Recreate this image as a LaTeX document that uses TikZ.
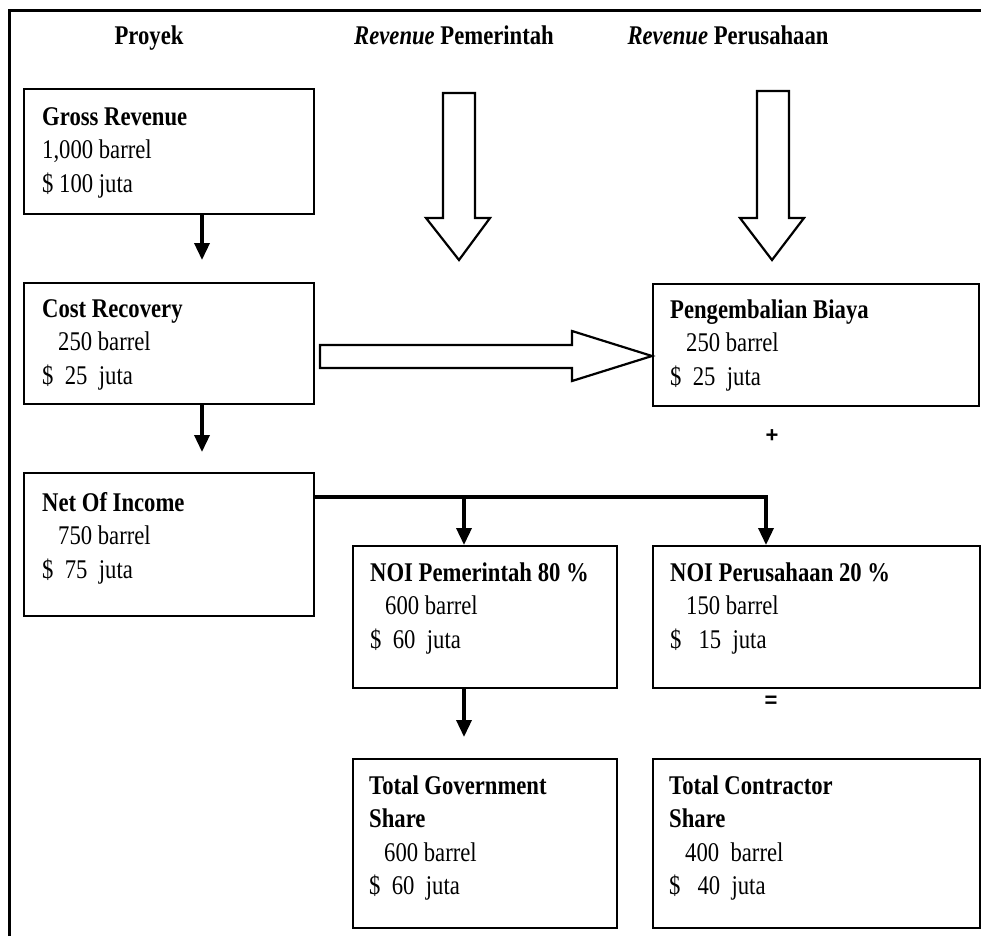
\documentclass[tikz,border=0pt]{standalone}
\usepackage{fontspec}
\setmainfont[FakeStretch=0.84]{Liberation Serif}
\newfontfamily\signfont{Liberation Sans}
\usetikzlibrary{arrows.meta}
\newcommand\lnstrut{\rule{0pt}{22pt}}
\begin{document}
\begin{tikzpicture}[x=1pt,y=-1pt,
  box/.style={draw, line width=2.4pt, inner sep=0pt, anchor=north west},
  txt/.style={anchor=north west, inner sep=0pt, align=left, font=\fontsize{27}{33.5}\selectfont},
  head/.style={anchor=base, inner sep=0pt, font=\fontsize{27}{33.5}\selectfont\bfseries},
  conn/.style={line width=3.5pt, -{Triangle[length=17pt,width=15pt]}},
  blockarrow/.style={draw, fill=white, line width=2.2pt, line join=miter},
  sign/.style={inner sep=0pt, font=\signfont\fontsize{22}{22}\selectfont\bfseries}]
\useasboundingbox (0,0) rectangle (981,936);
\fill[white] (0,0) rectangle (981,936);
% frame
\draw[line width=3pt] (9,936) -- (9,11) -- (981,11);
% headers
\node[head] (h1) at (149,45) {Proyek};
\node[head] (h2) at (454,45) {\textit{Revenue} Pemerintah};
\node[head] (h3) at (728,45) {\textit{Revenue} Perusahaan};
% boxes
\node[box, minimum width=290pt, minimum height=125pt] (gross) at (23,88) {};
\node[box, minimum width=290pt, minimum height=121pt] (cost) at (23,282) {};
\node[box, minimum width=290pt, minimum height=143pt] (net) at (23,472) {};
\node[box, minimum width=326pt, minimum height=122pt] (peng) at (652,283) {};
\node[box, minimum width=264pt, minimum height=142pt] (noip) at (352,545) {};
\node[box, minimum width=327pt, minimum height=142pt] (noic) at (652,545) {};
\node[box, minimum width=264pt, minimum height=169pt] (totg) at (352,758) {};
\node[box, minimum width=327pt, minimum height=169pt] (totc) at (652,758) {};
% texts
\node[txt] (grosst) at (42,103) {\lnstrut\textbf{Gross Revenue}\\1,000 barrel\\\$ 100 juta};
\node[txt] (costt) at (42,295) {\lnstrut\textbf{Cost Recovery}\\\hspace*{16pt}250 barrel\\\$\ \ 25\ \ juta};
\node[txt] (nett) at (42,489) {\lnstrut\textbf{Net Of Income}\\\hspace*{16pt}750 barrel\\\$\ \ 75\ \ juta};
\node[txt] (pengt) at (670,296) {\lnstrut\textbf{Pengembalian Biaya}\\\hspace*{16pt}250 barrel\\\$\ \ 25\ \ juta};
\node[txt] (noipt) at (370,559) {\lnstrut\textbf{NOI Pemerintah 80 \%}\\\hspace*{15pt}600 barrel\\\$\ \ 60\ \ juta};
\node[txt] (noict) at (670,559) {\lnstrut\textbf{NOI Perusahaan 20 \%}\\\hspace*{16pt}150 barrel\\\$\ \ \ 15\ \ juta};
\node[txt] (totgt) at (369,772) {\lnstrut\textbf{Total Government}\\\textbf{Share}\\\hspace*{15pt}600 barrel\\\$\ \ 60\ \ juta};
\node[txt] (totct) at (669,772) {\lnstrut\textbf{Total Contractor}\\\textbf{Share}\\\hspace*{16pt}400\ \ barrel\\\$\ \ \ 40\ \ juta};
% block arrows
\draw[blockarrow] (443,93) -- (475,93) -- (475,218) -- (490,218) -- (459,260) -- (426,218) -- (443,218) -- cycle;
\draw[blockarrow] (757,91) -- (789,91) -- (789,218) -- (804,218) -- (772,260) -- (740,218) -- (757,218) -- cycle;
\coordinate (bs) at (320,356);
\draw[blockarrow] (320,345) -- (572,345) -- (572,331) -- (peng.west |- bs) -- (572,381) -- (572,368) -- (320,368) -- cycle;
% connectors
\draw[conn, shorten >=22pt] ([xshift=179pt]gross.south west) -- ([xshift=179pt]cost.north west);
\draw[conn, shorten >=20pt] ([xshift=179pt]cost.south west) -- ([xshift=179pt]net.north west);
\coordinate (j1) at (464,497);
\coordinate (j2) at (766,497);
\draw[line width=4.5pt] ([yshift=-25pt]net.north east) -- ([xshift=2.25pt]j2);
\draw[conn] (j1) -- (j1 |- noip.north);
\draw[conn] (j2) -- (j2 |- noic.north);
\draw[conn, shorten >=21pt] ([xshift=112pt]noip.south west) -- ([xshift=112pt]totg.north west);
% signs
\node[sign] (plus) at (772,436) {+};
\node[sign] (eq) at (771,702) {=};
\end{tikzpicture}
\end{document}
